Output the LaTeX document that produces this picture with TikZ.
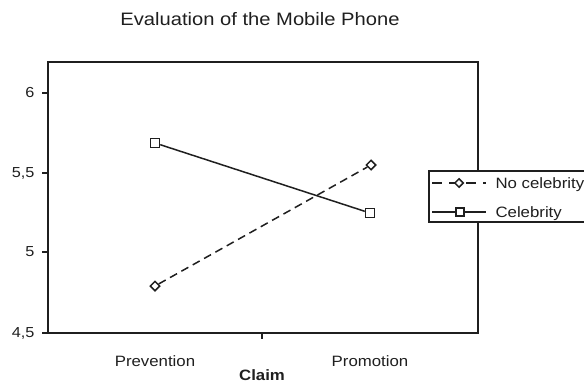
\documentclass[tikz,border=0pt]{standalone}
\usepackage{fontspec}
\setmainfont[FakeStretch=1.12]{Liberation Sans}
\usetikzlibrary{shapes.geometric}
\begin{document}
\begin{tikzpicture}[x=1pt,y=-1pt,
  frame/.style={draw=black!88,line width=1.6pt},
  series/.style={draw=black!88,line width=1.5pt},
  dashseries/.style={series,dash pattern=on 8pt off 5pt},
  sqmark/.style={draw=black!88,fill=white,line width=1.5pt,rectangle,minimum size=9pt,inner sep=0pt},
  dmmark/.style={draw=black!88,fill=white,line width=1.5pt,diamond,minimum size=10pt,inner sep=0pt},
  ticklab/.style={font=\fontsize{14.5}{16}\selectfont,anchor=east,text=black!88},
  catlab/.style={font=\fontsize{15}{17}\selectfont,anchor=base,text=black!88},
  legtext/.style={font=\fontsize{15}{17}\selectfont,anchor=base west,text=black!88}
]
\useasboundingbox (0,0) rectangle (584,383);
% title
\node[font=\fontsize{18}{20}\selectfont,anchor=base,text=black!88] (title) at (260,25) {Evaluation of the Mobile Phone};
% frame
\draw[frame] (48,62) rectangle (478,333);
% y ticks
\foreach \v/\lab/\yy in {6/6/93,55/{5,5}/173,5/5/252,45/{4,5}/333}{
  \draw[frame,line width=1.4pt] (42,\yy) -- (48,\yy);
  \node[ticklab] (yl\v) at (38,\yy) {\lab};
}
% x tick
\draw[frame,line width=1.4pt] (262,333) -- (262,339);
\node[catlab] (prev) at (155,366) {Prevention};
\node[catlab] (prom) at (370,366) {Promotion};
\node[catlab,font=\fontsize{15}{17}\selectfont\bfseries] (claim) at (262,380) {Claim};
% data
\node[sqmark] (c1) at (155,143) {};
\node[sqmark] (c2) at (370,213) {};
\node[dmmark] (n1) at (155,286) {};
\node[dmmark] (n2) at (371,165) {};
\draw[series] (c1) -- (c2);
\draw[dashseries] (n1) -- (n2);
% legend
\draw[frame,line width=1.5pt,fill=white] (429,171) rectangle (586,222);
\coordinate (la1) at (432,183);
\coordinate (lb1) at (486,183);
\coordinate (la2) at (432,212);
\coordinate (lb2) at (486,212);
\draw[series,dash pattern=on 10pt off 7pt] (la1) -- (lb1);
\node[dmmark,minimum size=9pt] (ld) at (459,183) {};
\draw[series] (la2) -- (lb2);
\node[sqmark,minimum size=8pt] (ls) at (460,212) {};
\node[legtext] (lt1) at (492,188) {No celebrity};
\node[legtext] (lt2) at (492,217) {Celebrity};
\end{tikzpicture}
\end{document}
